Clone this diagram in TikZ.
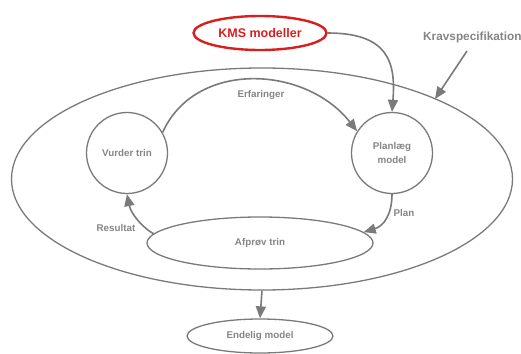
\documentclass[tikz,border=0pt]{standalone}
\usepackage{fontspec}
\setmainfont{Liberation Sans}
\usetikzlibrary{arrows.meta,shapes.geometric}
\definecolor{linegray}{HTML}{7A7A7A}
\definecolor{textgray}{HTML}{858585}
\definecolor{kmsred}{HTML}{D81E1E}
\begin{document}
\begin{tikzpicture}[x=1pt,y=-1pt,
  shapeline/.style={draw=linegray,line width=1.3pt},
  stepcircle/.style={shapeline,circle,minimum size=81pt,inner sep=0pt},
  label/.style={text=textgray,font=\fontsize{9.8}{13.5}\selectfont\bfseries},
  flow/.style={draw=linegray,line width=1.6pt,-{Triangle[length=12pt,width=10pt]}}]
  \useasboundingbox (0,0) rectangle (521,353);
  \clip (0,0) rectangle (521,353);

  % outer process boundary
  \node[shapeline,ellipse,minimum width=501pt,minimum height=222pt,inner sep=0pt] (outer) at (262,179) {};

  % model source
  \node[draw=kmsred,line width=2.4pt,ellipse,minimum width=133pt,minimum height=34pt,inner sep=0pt,
        text=kmsred,font=\fontsize{12.5}{14}\selectfont\bfseries] (kms) at (260,33) {KMS modeller};

  % the three steps
  \node[stepcircle,label] (vurder) at (127,153) {Vurder trin};
  \node[stepcircle,label,align=center] (plan) at (392,153) {Planlæg\\model};
  \node[shapeline,ellipse,minimum width=226pt,minimum height=52pt,inner sep=0pt,label] (afprov) at (260,243) {Afprøv trin};

  % result
  \node[shapeline,ellipse,minimum width=146pt,minimum height=34pt,inner sep=0pt,label] (endelig) at (260,336) {Endelig model};

  % requirement specification
  \node[label,font=\fontsize{11.8}{13}\selectfont\bfseries,anchor=west,inner sep=0pt] (krav) at (423,37) {Kravspecifikation};
  \coordinate (kravtip) at (435,99);
  \coordinate (kravstart) at (467,51);

  % connectors
  \draw[flow] (kms.east) .. controls (388,33) and (396,62) .. (plan.north);
  \draw[flow] (kravstart) -- (kravtip);
  \draw[flow] (vurder.30) .. controls (195,60) and (305,65) .. (plan.148);
  \node[label] (erf) at (261,95) {Erfaringer};
  \draw[flow] (plan.south) .. controls (392,214) and (384,226) .. (afprov.6);
  \node[label] (planlbl) at (404,213) {Plan};
  \draw[flow] (afprov.175) .. controls (143,228) and (131,214) .. (vurder.south);
  \node[label] (res) at (116,228) {Resultat};
  \draw[flow] (outer.south) -- (endelig.north);
\end{tikzpicture}
\end{document}
